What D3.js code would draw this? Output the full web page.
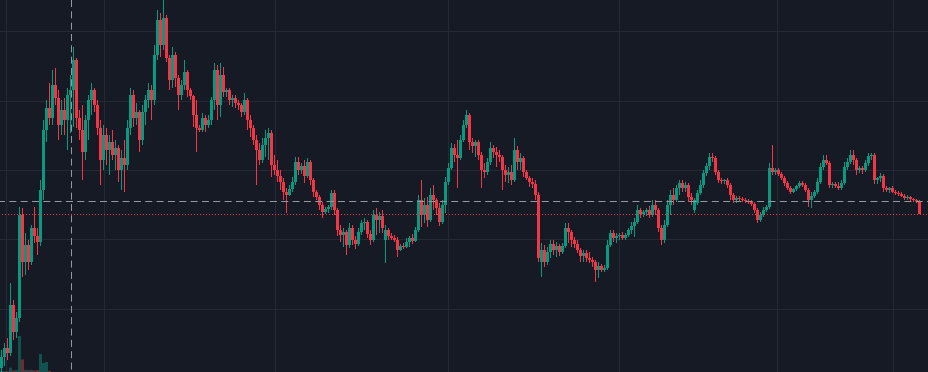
<!DOCTYPE html>
<html>
<head>
<meta charset="utf-8">
<script src="https://cdn.jsdelivr.net/npm/d3@7"></script>
<style>
html,body{margin:0;padding:0;background:#161a25;overflow:hidden;}
svg{display:block;}
</style>
</head>
<body>
<svg id="chart" width="928" height="372"></svg>
<script>
// ---- data (price units, one candle per bar) ----
const open = [
32,43,52,47,95,68,82,185,138,155,
138,172,164,158,210,270,292,282,315,302,
275,290,280,305,310,340,282,270,248,280,
300,310,295,272,240,265,250,258,245,252,
230,242,235,272,305,282,288,260,288,300,
310,300,345,380,355,382,342,320,345,322,
305,315,328,310,304,285,272,270,282,275,
280,300,330,295,325,308,310,300,302,297,
295,288,300,280,272,260,250,240,255,262,
267,235,230,224,218,208,205,211,218,238,
230,234,224,238,220,208,203,195,188,191,
193,207,190,170,165,168,155,172,160,156,
168,177,178,166,160,185,180,184,160,170,
164,162,160,150,154,153,158,162,159,170,
200,185,195,180,205,200,192,178,195,218,
232,252,245,242,260,275,285,258,254,258,
245,230,228,238,252,248,245,243,230,225,
228,220,250,238,242,228,222,218,216,205,
138,150,138,148,156,150,154,148,154,172,
168,160,156,150,144,147,142,140,138,130,
134,130,132,155,167,162,164,165,162,165,
170,174,178,190,186,188,190,185,195,190,
172,160,175,195,205,200,212,217,212,215,
203,190,197,207,215,227,234,243,242,228,
220,219,220,215,205,200,202,201,200,199,
198,196,190,180,185,190,193,232,228,230,
226,222,217,212,208,211,214,217,215,210,
200,204,208,218,233,240,237,215,216,214,
212,217,233,238,245,240,230,232,230,237,
244,245,220,222,224,212,210,212,208,207,
206,204,202,203,201,200,199];
const high = [
50,57,62,117,100,88,193,192,167,160,
175,193,172,220,280,300,317,330,332,310,
300,302,312,325,353,342,290,295,285,305,
317,312,300,280,275,272,265,270,260,255,
250,260,280,312,310,297,290,295,305,317,
315,355,390,387,400,385,345,353,348,325,
320,340,330,312,305,300,275,287,285,285,
303,337,335,337,333,312,312,305,305,300,
297,307,302,285,275,265,257,262,270,272,
270,245,240,230,222,212,215,223,243,243,
237,240,242,240,222,210,205,198,193,195,
210,210,192,175,172,170,177,175,164,172,
180,182,180,170,190,192,188,190,175,172,
167,165,163,156,157,162,164,166,173,205,
220,202,203,212,215,202,197,200,223,237,
257,256,260,265,280,290,287,262,260,260,
248,237,242,258,255,253,250,245,235,233,
235,262,254,247,244,230,224,222,220,208,
157,155,153,160,160,158,156,157,177,177,
170,163,160,152,150,150,148,143,140,138,
136,135,160,170,170,167,167,168,167,172,
178,182,195,192,190,192,194,200,200,192,
175,180,200,210,212,215,220,220,218,217,
207,202,210,220,230,237,247,247,244,230,
222,221,222,217,207,204,204,203,202,201,
200,198,192,188,193,195,237,255,232,232,
228,224,219,214,212,215,219,219,217,212,
208,210,222,237,245,245,239,218,218,218,
220,238,242,250,250,242,234,234,240,247,
247,247,223,227,226,214,213,214,210,209,
208,206,205,204,202,201,200];
const low = [
28,34,40,44,60,62,78,123,125,130,
135,157,145,154,200,258,275,275,295,260,
265,265,250,267,273,272,260,220,240,260,
285,288,265,215,230,235,225,240,230,218,
210,208,230,265,273,275,248,255,275,292,
280,295,340,343,350,338,310,312,313,290,
300,310,303,300,273,248,268,268,268,272,
275,290,280,283,303,303,295,293,292,290,
283,285,270,263,255,215,235,237,243,240,
223,225,218,210,200,187,204,208,215,225,
226,217,222,215,203,200,190,182,186,187,
190,185,164,158,153,145,152,155,151,154,
165,170,162,155,158,165,167,167,137,160,
160,158,143,149,151,152,153,156,158,168,
173,177,173,178,190,185,174,176,187,215,
230,238,212,240,258,272,250,247,243,240,
212,222,225,235,242,233,238,210,218,217,
215,218,230,230,223,220,213,212,200,138,
123,133,135,142,145,143,144,146,152,157,
153,152,147,138,138,138,137,133,118,122,
128,128,130,153,158,157,160,160,160,163,
166,163,176,182,183,184,182,183,185,168,
155,157,173,185,195,198,205,208,208,198,
195,187,195,205,212,224,230,238,225,217,
216,216,212,200,197,197,199,198,197,196,
194,187,177,178,183,188,191,225,225,224,
220,214,210,206,207,209,212,213,208,193,
192,202,206,216,230,235,212,212,212,210,
210,215,230,236,235,225,227,226,228,234,
240,216,216,218,208,208,207,207,205,204,
203,200,200,199,198,197,186];
const close = [
43,52,47,95,68,82,185,138,155,138,
172,164,158,210,270,292,282,315,302,275,
290,280,305,310,340,282,270,248,280,300,
310,295,272,240,265,250,258,245,252,230,
242,235,272,305,282,288,260,288,300,310,
300,345,380,355,382,342,320,345,322,305,
315,328,310,304,285,272,270,282,275,280,
300,330,295,325,308,310,300,302,297,295,
288,300,280,272,260,250,240,255,262,267,
235,230,224,218,208,205,211,218,238,230,
234,224,238,220,208,203,195,188,191,193,
207,190,170,165,168,155,172,160,156,168,
177,178,166,160,185,180,184,172,170,164,
162,160,150,154,153,158,162,159,170,200,
185,195,180,205,200,192,178,195,218,232,
252,245,242,260,275,285,258,254,258,245,
230,228,238,252,248,245,243,230,225,228,
220,250,238,242,228,222,218,216,205,142,
150,138,148,156,150,154,148,154,172,168,
160,156,150,144,147,142,140,138,130,134,
130,132,155,167,162,164,165,162,165,170,
174,178,190,186,188,190,185,195,190,172,
160,175,195,205,200,212,217,212,215,203,
200,200,207,215,227,234,243,242,228,220,
219,220,215,205,200,202,201,200,199,198,
196,190,180,185,190,193,232,228,230,226,
222,217,212,208,211,214,217,215,210,200,
204,208,218,233,240,237,215,216,214,212,
217,233,238,245,240,230,232,230,237,244,
245,220,222,224,212,210,212,208,207,206,
204,202,203,201,200,199,186];
// volume of the earliest bars (later bars are too small to show)
const volume = [3,2,2,12,4,5,100,35,6,5,6,4,5,50,25,28,3];

// grid ticks: prices and bar positions of time boundaries
const priceTicks = [369, 299, 230, 161, 91];
const timeTicks = [1.5, 34.17, 91.17, 148.83, 205.83, 258.5, 297.17];
const crosshairBar = 23.17;
const crosshairPrice = 199;
const lastPrice = 186;

// ---- drawing ----
const W = 928, H = 372;
const UP = "#089981", DOWN = "#f23645";
const svg = d3.select("#chart");
svg.append("rect").attr("width", W).attr("height", H).attr("fill", "#161a25");

const N = close.length;
const x = d3.scaleLinear().domain([0, N - 1]).range([1.5, 919.5]);
const y = d3.scaleLinear().domain([28, 400]).range([372, 0]);
const vy = d3.scaleLinear().domain([0, 100]).range([0, 36]);
const BW = 3;
const bx = i => Math.round(x(i) - BW / 2);

const grid = svg.append("g").attr("stroke", "#252935").attr("stroke-width", 1);
grid.selectAll("line.h").data(priceTicks).join("line").attr("class", "h")
  .attr("x1", 0).attr("x2", W)
  .attr("y1", d => Math.round(y(d)) + 0.5).attr("y2", d => Math.round(y(d)) + 0.5);
grid.selectAll("line.v").data(timeTicks).join("line").attr("class", "v")
  .attr("y1", 0).attr("y2", H)
  .attr("x1", d => Math.round(x(d)) + 0.5).attr("x2", d => Math.round(x(d)) + 0.5);

// volume
svg.append("g").selectAll("rect").data(volume).join("rect")
  .attr("x", (d, i) => bx(i))
  .attr("width", BW)
  .attr("y", d => H - vy(d))
  .attr("height", d => vy(d))
  .attr("fill", (d, i) => close[i] >= open[i] ? UP : DOWN)
  .attr("opacity", 0.45);

// candles
const idx = d3.range(N);
const cg = svg.append("g");
const col = i => close[i] >= open[i] ? UP : DOWN;
cg.selectAll("line").data(idx).join("line")
  .attr("x1", i => bx(i) + 1.5)
  .attr("x2", i => bx(i) + 1.5)
  .attr("y1", i => Math.round(y(high[i])))
  .attr("y2", i => Math.round(y(low[i])))
  .attr("stroke", col).attr("stroke-width", 1);
cg.selectAll("rect").data(idx).join("rect")
  .attr("x", i => bx(i))
  .attr("width", BW)
  .attr("y", i => Math.round(y(Math.max(open[i], close[i]))))
  .attr("height", i => Math.max(1, Math.round(y(Math.min(open[i], close[i]))) - Math.round(y(Math.max(open[i], close[i])))))
  .attr("fill", col);

// last price line (dotted red)
svg.append("line")
  .attr("x1", 0).attr("x2", W)
  .attr("y1", Math.round(y(lastPrice)) + 0.5).attr("y2", Math.round(y(lastPrice)) + 0.5)
  .attr("stroke", DOWN).attr("stroke-width", 1)
  .attr("stroke-dasharray", "1 2").attr("stroke-dashoffset", 1);

// crosshair
svg.append("line")
  .attr("x1", 0).attr("x2", W)
  .attr("y1", Math.round(y(crosshairPrice)) + 0.5).attr("y2", Math.round(y(crosshairPrice)) + 0.5)
  .attr("stroke", "#9598a1").attr("stroke-width", 1)
  .attr("stroke-dasharray", "7 4.33").attr("stroke-dashoffset", 2);
svg.append("line")
  .attr("x1", Math.round(x(crosshairBar)) + 0.5).attr("x2", Math.round(x(crosshairBar)) + 0.5)
  .attr("y1", 0).attr("y2", H)
  .attr("stroke", "#9598a1").attr("stroke-width", 1)
  .attr("stroke-dasharray", "7 4.33");
</script>
</body>
</html>
